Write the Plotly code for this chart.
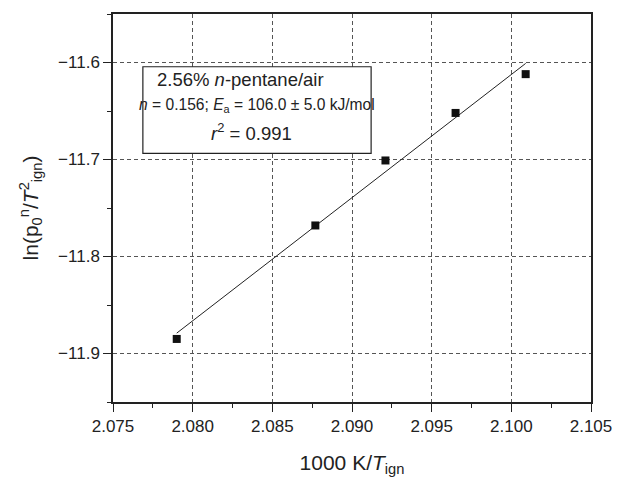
import numpy as np
import plotly.graph_objects as go

# Data
inv_T = [2.0790, 2.0877, 2.0921, 2.0965, 2.1009]          # 1000 K / T_ign
ln_ratio = [-11.885, -11.768, -11.701, -11.652, -11.612]   # ln(p0^n / T_ign^2)

x_ticks = [2.075, 2.080, 2.085, 2.090, 2.095, 2.100, 2.105]
y_ticks = [-11.6, -11.7, -11.8, -11.9]

legend_lines = [
    "2.56% <i>n</i>-pentane/air",
    "<i>n</i> = 0.156; <i>E</i><sub>a</sub> = 106.0 ± 5.0 kJ/mol",
    "<i>r</i><sup>2</sup> = 0.991",
]

slope, intercept = np.polyfit(inv_T, ln_ratio, 1)
fit_x = [min(inv_T), max(inv_T)]
fit_y = [slope * v + intercept for v in fit_x]

FONT = "Liberation Sans, Arial, sans-serif"

fig = go.Figure()
fig.add_trace(go.Scatter(x=fit_x, y=fit_y, mode="lines",
                         line=dict(color="#222222", width=1), showlegend=False))
fig.add_trace(go.Scatter(x=inv_T, y=ln_ratio, mode="markers",
                         marker=dict(symbol="square", size=8, color="#111111"),
                         showlegend=False))

axis_common = dict(
    showline=True, linecolor="#222222", linewidth=1.5, mirror=True,
    ticks="outside", ticklen=8, tickwidth=1.2, tickcolor="#222222",
    showgrid=True, gridcolor="#555555", griddash="4px,3px", gridwidth=1,
    zeroline=False,
    tickfont=dict(family=FONT, size=17, color="#222222"),
)

fig.update_xaxes(
    range=[2.075, 2.105], tickvals=x_ticks,
    ticktext=[f"{v:.3f}" for v in x_ticks],
    minor=dict(ticks="outside", ticklen=4, tickwidth=1.2, tickcolor="#222222",
               dtick=0.0025, tick0=2.075, showgrid=False),
    title=dict(text="1000 K/<i>T</i><sub>ign</sub>",
               font=dict(family=FONT, size=21, color="#222222"), standoff=20),
    **axis_common,
)
fig.update_yaxes(
    range=[-11.95, -11.55], tickvals=y_ticks,
    ticktext=[f"\u2212{abs(v):.1f}" for v in y_ticks],
    minor=dict(ticks="outside", ticklen=4, tickwidth=1.2, tickcolor="#222222",
               dtick=0.05, tick0=-11.95, showgrid=False),
    title=dict(text="ln(p<sub>0</sub><sup>n</sup>/<i>T</i><sup>2</sup><sub>ign</sub>)",
               font=dict(family=FONT, size=21, color="#222222"), standoff=14),
    **axis_common,
)

fig.add_shape(type="rect", xref="paper", yref="paper",
              x0=0.0625, x1=0.540, y0=0.641, y1=0.864,
              line=dict(color="#222222", width=1.2), fillcolor="white", layer="above")

pos = [(0.267, 0.831, 18.5), (0.301, 0.764, 15.6), (0.29, 0.697, 18.5)]
for txt, (px, py, fs) in zip(legend_lines, pos):
    fig.add_annotation(text=txt, xref="paper", yref="paper", x=px, y=py,
                       showarrow=False, xanchor="center", yanchor="middle",
                       font=dict(family=FONT, size=fs, color="#222222"))

fig.update_layout(
    width=624, height=484,
    margin=dict(l=113, r=31, t=12, b=82),
    paper_bgcolor="white", plot_bgcolor="white",
)

fig.write_html("out.html")
